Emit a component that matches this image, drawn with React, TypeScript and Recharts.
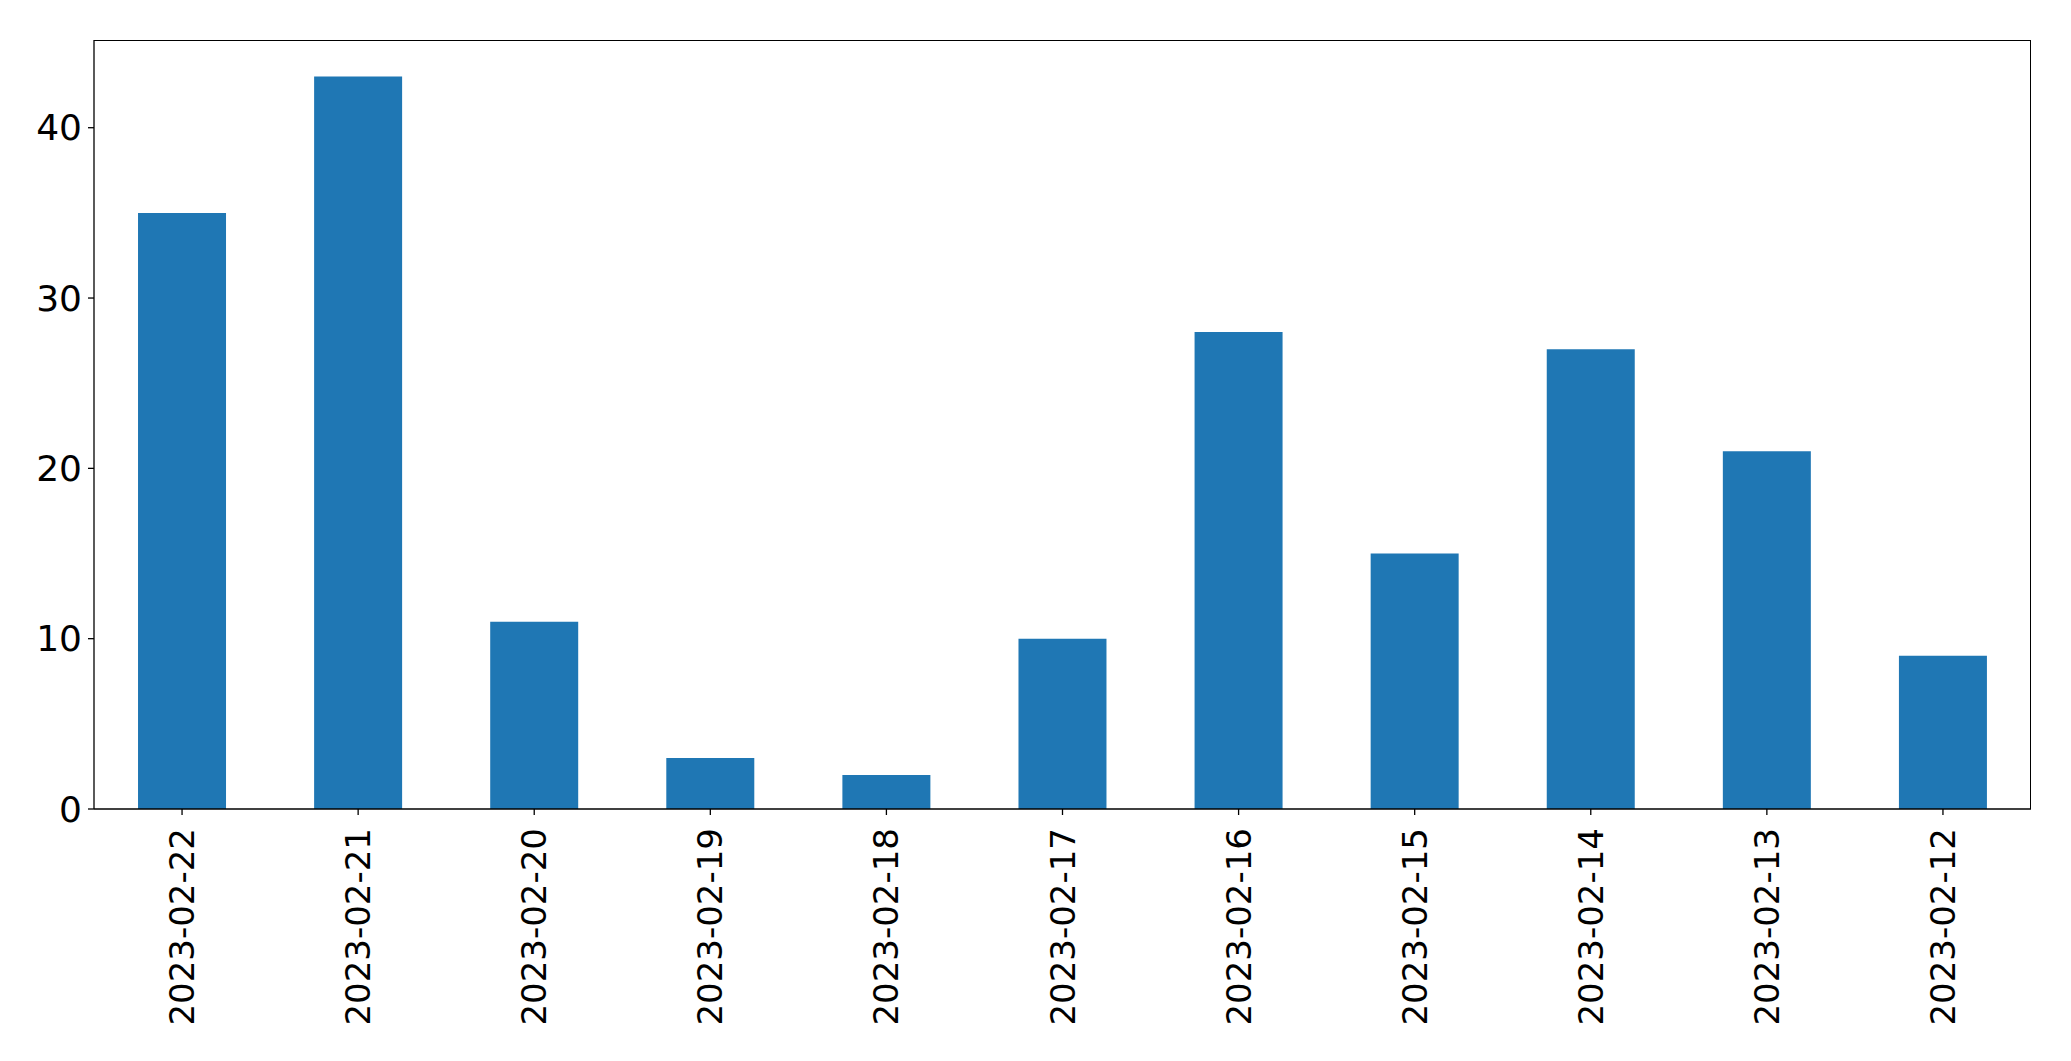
import React from "react";
import { BarChart, Bar, XAxis, YAxis } from "recharts";

const dates = [
  "2023-02-22",
  "2023-02-21",
  "2023-02-20",
  "2023-02-19",
  "2023-02-18",
  "2023-02-17",
  "2023-02-16",
  "2023-02-15",
  "2023-02-14",
  "2023-02-13",
  "2023-02-12",
];
const counts = [35, 43, 11, 3, 2, 10, 28, 15, 27, 21, 9];
const yTicks = [0, 10, 20, 30, 40];

const data = dates.map((d, i) => ({ date: d, count: counts[i] }));

const FONT = "DejaVu Sans, sans-serif";

function DateTick(props: any) {
  const { x, y, payload } = props;
  return (
    <text
      x={x}
      y={y + 11}
      transform={`rotate(-90 ${x} ${y + 11})`}
      textAnchor="end"
      dominantBaseline="central"
      fontFamily={FONT}
      fontSize={34}
      fill="#000"
    >
      {payload.value}
    </text>
  );
}

export default function App() {
  return (
    <div style={{ position: "relative", width: 2071, height: 1061, background: "#fff" }}>
      <style>{"body{margin:0}"}</style>
      <BarChart
        width={2071}
        height={1061}
        data={data}
        margin={{ top: 40, right: 40, bottom: 0, left: 0 }}
        barCategoryGap="25%"
      >
        <XAxis
          dataKey="date"
          height={252}
          interval={0}
          tick={<DateTick />}
          tickSize={6}
          axisLine={{ stroke: "#000", strokeWidth: 1.3 }}
          tickLine={{ stroke: "#000", strokeWidth: 1.3 }}
        />
        <YAxis
          width={94}
          domain={[0, 45.15]}
          ticks={yTicks}
          tickSize={6}
          tickMargin={6}
          tick={{ fontFamily: FONT, fontSize: 36, fill: "#000" }}
          axisLine={{ stroke: "#000", strokeWidth: 1.3 }}
          tickLine={{ stroke: "#000", strokeWidth: 1.3 }}
        />
        <Bar dataKey="count" fill="#1f77b4" isAnimationActive={false} />
      </BarChart>
      {/* top and right spines of the frame */}
      <div
        style={{
          position: "absolute",
          left: 94,
          top: 40,
          width: 1937,
          height: 769,
          boxSizing: "border-box",
          borderTop: "1.3px solid #000",
          borderRight: "1.3px solid #000",
          pointerEvents: "none",
        }}
      />
    </div>
  );
}
